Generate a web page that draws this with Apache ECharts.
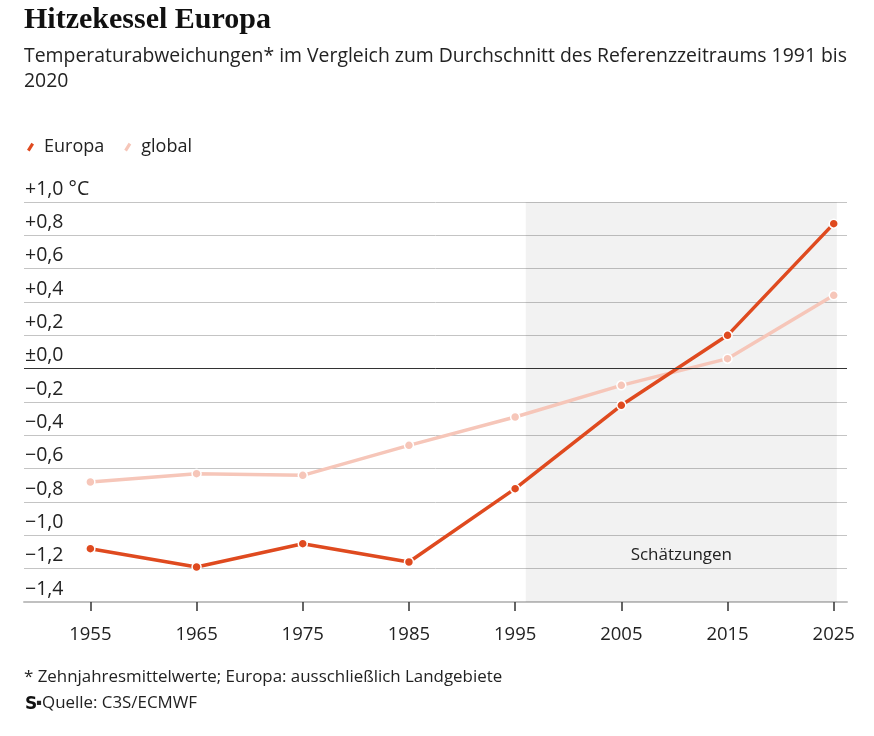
<!DOCTYPE html>
<html>
<head>
<meta charset="utf-8">
<script src="https://cdn.jsdelivr.net/npm/echarts@6/dist/echarts.min.js"></script>
<style>
html,body{margin:0;padding:0;background:#fff;}
#chart{width:874px;height:736px;}
</style>
</head>
<body>
<div id="chart"></div>
<script>
const years = [1955, 1965, 1975, 1985, 1995, 2005, 2015, 2025];
const europa = [-1.08, -1.19, -1.05, -1.16, -0.72, -0.22, 0.20, 0.87];
const globalVals = [-0.68, -0.63, -0.64, -0.46, -0.29, -0.10, 0.06, 0.44];
const estimateRange = [1996, 2025.3];
const estimateLabel = 'Schätzungen';
const titleText = 'Hitzekessel Europa';
const subtitleText = 'Temperaturabweichungen* im Vergleich zum Durchschnitt des Referenzzeitraums 1991 bis\n2020';
const footnoteText = '* Zehnjahresmittelwerte; Europa: ausschließlich Landgebiete';
const sourceText = '\u25AAQuelle: C3S/ECMWF';

const FONT = '"Open Sans", "Noto Sans", sans-serif';
const C_EU = '#df4a1f';
const C_GL = '#f6c6b9';

function fmtY(v) {
  if (Math.abs(v) < 1e-9) return '\u00B10,0';
  const s = (v > 0 ? '+' : '\u2212') + Math.abs(v).toFixed(1).replace('.', ',');
  return Math.abs(v - 1) < 1e-9 ? s + ' \u00B0C' : s;
}

const chart = echarts.init(document.getElementById('chart'), null, {renderer: 'canvas'});
chart.setOption({
  backgroundColor: '#fff',
  animation: false,
  textStyle: {fontFamily: FONT},
  graphic: [
    {type: 'text', left: 24, top: 5, style: {text: titleText, font: 'bold 30px "Liberation Serif", serif', fill: '#111'}},
    {type: 'text', left: 24, top: 44, style: {text: subtitleText, fontFamily: FONT, fontSize: 19.4, lineHeight: 25, fill: '#222'}},
    {type: 'text', left: 24, top: 669, style: {text: footnoteText, fontFamily: FONT, fontSize: 16.9, fill: '#222'}},
    {type: 'text', left: 25, top: 696, style: {text: 'S', font: 'bold 17px "DejaVu Sans", sans-serif', fill: '#111'}},
    {type: 'text', left: 36, top: 695, style: {text: sourceText, fontFamily: FONT, fontSize: 16.9, fill: '#222'}}
  ],
  legend: {
    data: ['Europa', 'global'],
    left: 22,
    top: 133,
    icon: 'path://M0,8 L5,0 L8,2 L3,10 Z',
    itemWidth: 7,
    itemHeight: 9,
    itemGap: 20,
    itemStyle: {borderWidth: 0},
    textStyle: {fontFamily: FONT, fontSize: 18, color: '#222', padding: [0, 0, 0, 5]}
  },
  grid: {left: 24, right: 27, top: 202, height: 400, containLabel: false},
  xAxis: {
    type: 'value',
    min: 1948.75,
    max: 2026.25,
    splitLine: {show: false},
    axisLine: {show: true, onZero: false, lineStyle: {color: '#c0c0c0', width: 2}},
    axisTick: {show: true, customValues: years, length: 9, lineStyle: {color: '#333', width: 1.5}},
    axisLabel: {show: true, customValues: years, fontFamily: FONT, fontSize: 18.5, color: '#222', margin: 23, formatter: v => String(v)}
  },
  yAxis: {
    type: 'value',
    min: -1.4,
    max: 1.0,
    interval: 0.2,
    axisLine: {show: false},
    axisTick: {show: false},
    splitLine: {show: true, lineStyle: {color: '#c4c4c4', width: 1}},
    axisLabel: {
      inside: true, margin: 1, align: 'left', verticalAlign: 'bottom',
      padding: [0, 0, 3, 0],
      fontFamily: FONT, fontSize: 19.5, color: '#222',
      formatter: fmtY
    }
  },
  series: [
    {
      name: 'global',
      type: 'line',
      data: years.map((y, i) => [y, globalVals[i]]),
      symbol: 'circle',
      symbolSize: 9,
      lineStyle: {color: C_GL, width: 3.5},
      itemStyle: {color: C_GL, borderColor: '#fff', borderWidth: 1.5},
      z: 3,
      markArea: {
        silent: true,
        itemStyle: {color: 'rgba(0,0,0,0.052)'},
        label: {show: true, position: 'insideBottom', distance: 38, fontFamily: FONT, fontSize: 17, color: '#222'},
        data: [[{xAxis: estimateRange[0], name: estimateLabel}, {xAxis: estimateRange[1]}]]
      },
      markLine: {
        silent: true,
        symbol: 'none',
        label: {show: false},
        lineStyle: {color: '#333', width: 1, type: 'solid'},
        data: [{yAxis: 0}]
      }
    },
    {
      name: 'Europa',
      type: 'line',
      data: years.map((y, i) => [y, europa[i]]),
      symbol: 'circle',
      symbolSize: 9,
      lineStyle: {color: C_EU, width: 3.5},
      itemStyle: {color: C_EU, borderColor: '#fff', borderWidth: 1.5},
      z: 4
    }
  ]
});
</script>
</body>
</html>
